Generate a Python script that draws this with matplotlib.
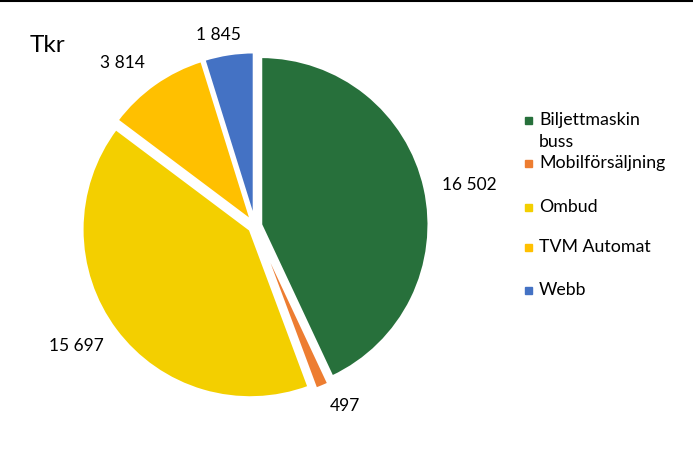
import numpy as np
import matplotlib.pyplot as plt
from matplotlib.patches import Rectangle

# --------------------------------------------------
# Data
# --------------------------------------------------
categories = ["Biljettmaskin\nbuss", "Mobilförsäljning", "Ombud", "TVM Automat", "Webb"]
values = [16502, 497, 15697, 3814, 1845]
value_labels = ["16 502", "497", "15 697", "3 814", "1 845"]
colors = ["#27703B", "#ED7D31", "#F3CF00", "#FFC000", "#4472C4"]

plt.rcParams["font.family"] = ["Lato", "DejaVu Sans"]

W, H = 693, 451
fig = plt.figure(figsize=(W / 100, H / 100), dpi=100)
ax = fig.add_axes([0, 0, 1, 1])

# pie drawn in pixel units
cx, cy, r = 255, H - 226, 168

wedges, _ = ax.pie(
    values,
    colors=colors,
    startangle=90,
    counterclock=False,
    explode=[6] * len(values),   # explode is absolute, so pixels here
    center=(cx, cy),
    radius=r,
    wedgeprops=dict(edgecolor="white", linewidth=2.0),
)

ax.set_xlim(0, W)
ax.set_ylim(0, H)
ax.set_aspect("equal")
ax.axis("off")

# value labels outside the slices
label_dist = [1.30, 1.20, 1.28, 1.25, 1.16]
label_shift = [-1.8, 3.7, -2.8, 3.8, 2.2]  # degrees
for w, txt, d, s in zip(wedges, value_labels, label_dist, label_shift):
    ang = np.deg2rad((w.theta1 + w.theta2) / 2 + s)
    ax.text(cx + d * r * np.cos(ang), cy + d * r * np.sin(ang), txt,
            ha="center", va="center", fontsize=12.5, color="black")

# title
fig.text(30 / W, 1 - 45 / H, "Tkr", fontsize=17.5, va="center", ha="left")

# legend drawn by hand so the two-line label keeps its marker on line one
row_y = [120, 163, 207, 247, 290]
for lab, col, y in zip(categories, colors, row_y):
    fig.patches.append(Rectangle((525 / W, 1 - (y + 4) / H), 7 / W, 7 / H,
                                 transform=fig.transFigure, color=col))
    lines = lab.split("\n")
    for i, line in enumerate(lines):
        fig.text(539 / W, 1 - (y + 22 * i) / H, line, fontsize=12.8,
                 va="center", ha="left")

# top border line
fig.add_artist(plt.Line2D([0, 1], [1 - 1 / H, 1 - 1 / H], transform=fig.transFigure,
                          color="black", linewidth=1.5))

fig.savefig("out.png", dpi=100)
